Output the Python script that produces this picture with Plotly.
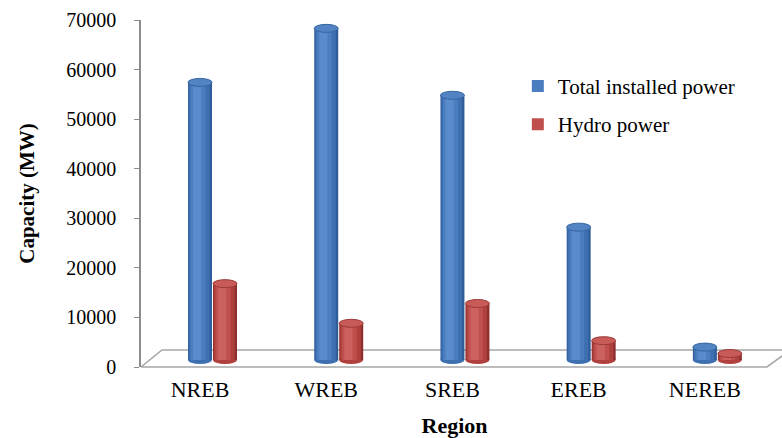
import plotly.graph_objects as go

# ---- data -------------------------------------------------------------
regions = ["NREB", "WREB", "SREB", "EREB", "NEREB"]
total_installed = [56000, 66900, 53400, 26800, 2600]
hydro_power = [15400, 7400, 11400, 3900, 1300]
series_names = ["Total installed power", "Hydro power"]
y_ticks = [0, 10000, 20000, 30000, 40000, 50000, 60000, 70000]

# ---- geometry -----------------------------------------------------------
W, H = 782, 438
ML, MR, MT, MB = 141, 14, 20, 71
plot_w = W - ML - MR
plot_h = H - MT - MB
y_max = 70000
px_per_unit = plot_h / y_max
depth_px = 7                      # bars stand mid-way into the floor
depth_shift = depth_px / px_per_unit
x_range = [-0.4675, 4.5]

bar_w = 0.19
offsets = [-0.095, 0.103]
cap_h = 8 / px_per_unit           # ellipse height of the cylinder ends

# shading layers: (width fraction, centre shift fraction, colour)
layers = {
    0: [(1.00, 0.00, "#2F5D99"), (0.86, -0.03, "#3E6FB0"),
        (0.62, -0.08, "#4A7EC1"), (0.34, -0.12, "#5A8BCD")],
    1: [(1.00, 0.00, "#8E2F2D"), (0.86, -0.03, "#B0403D"),
        (0.62, -0.08, "#C0504D"), (0.34, -0.12, "#CC625F")],
}
legend_layer = 2
cap_fill = {0: "#5284C4", 1: "#C85A57"}
cap_line = {0: "#36649F", 1: "#9C3A38"}

fig = go.Figure()
shapes = []


def px_to_paper(px, py):
    return (px - ML) / plot_w, (MT + plot_h - py) / plot_h


# floor of the 3-D plot
fl = px_to_paper(141, 367)
bl = px_to_paper(162, 350)
br = px_to_paper(800, 350)
fr = px_to_paper(767, 367)
fr2 = px_to_paper(789, 351)
shapes.append(dict(type="path", xref="paper", yref="paper", layer="below",
                   path=f"M{fl[0]},{fl[1]} L{fr[0]},{fr[1]} L{fr2[0]},{fr2[1]} "
                        f"M{fl[0]},{fl[1]} L{bl[0]},{bl[1]} L{br[0]},{br[1]}",
                   line=dict(color="#A6A6A6", width=1.6)))

# value axis carrier (draws nothing, keeps the left axis on the page)
fig.add_trace(go.Scatter(x=regions, y=total_installed, yaxis="y", mode="none",
                         showlegend=False, hoverinfo="skip"))

for s, values in enumerate([total_installed, hydro_power]):
    off = offsets[s]
    for k, (wf, shift, col) in enumerate(layers[s]):
        w = bar_w * wf
        centre = off + bar_w / 2 + shift * bar_w
        fig.add_trace(go.Bar(
            x=regions, y=values, yaxis="y2",
            width=w, offset=centre - w / 2,
            marker=dict(color=col, line=dict(width=0)),
            name=series_names[s], legendgroup=series_names[s],
            showlegend=(k == legend_layer),
            hoverinfo="skip" if k != legend_layer else None,
        ))
    for i, v in enumerate(values):
        # rounded base below the cylinder
        shapes.append(dict(type="circle", xref="x", yref="y2", layer="below",
                           x0=i + off, x1=i + off + bar_w,
                           y0=-cap_h / 2, y1=cap_h / 2,
                           fillcolor=layers[s][1][2], line=dict(width=0)))
        # top cap
        shapes.append(dict(type="circle", xref="x", yref="y2", layer="above",
                           x0=i + off, x1=i + off + bar_w,
                           y0=v - cap_h / 2, y1=v + cap_h / 2,
                           fillcolor=cap_fill[s], line=dict(color=cap_line[s], width=1)))

serif = "Liberation Serif"
fig.update_layout(
    width=W, height=H,
    margin=dict(l=ML, r=MR, t=MT, b=MB, autoexpand=False),
    paper_bgcolor="white", plot_bgcolor="rgba(0,0,0,0)",
    barmode="overlay",
    font=dict(family=serif, color="black"),
    shapes=shapes,
    xaxis=dict(type="category", range=x_range, showline=False, showgrid=False,
               zeroline=False, ticks="", tickfont=dict(size=22, family=serif),
               ticklabelstandoff=7, automargin=False,
               title=dict(text="<b>Region</b>", font=dict(size=22, family=serif),
                          standoff=18)),
    yaxis=dict(range=[0, y_max], tickvals=y_ticks, tickformat="d",
               showgrid=False, zeroline=False, automargin=False,
               showline=True, linecolor="#8C8C8C", linewidth=1.5,
               ticks="outside", ticklen=5, tickcolor="#8C8C8C",
               tickfont=dict(size=20, family=serif), ticklabelstandoff=14,
               title=dict(text="<b>Capacity (MW)</b>", font=dict(size=21, family=serif),
                          standoff=26)),
    yaxis2=dict(overlaying="y", range=[-depth_shift, y_max - depth_shift],
                visible=False),
    legend=dict(x=0.601, y=0.868, xanchor="left", yanchor="top",
                bgcolor="rgba(0,0,0,0)", font=dict(size=21, family=serif),
                tracegroupgap=8),
    showlegend=True,
)

fig.write_html("out.html")
